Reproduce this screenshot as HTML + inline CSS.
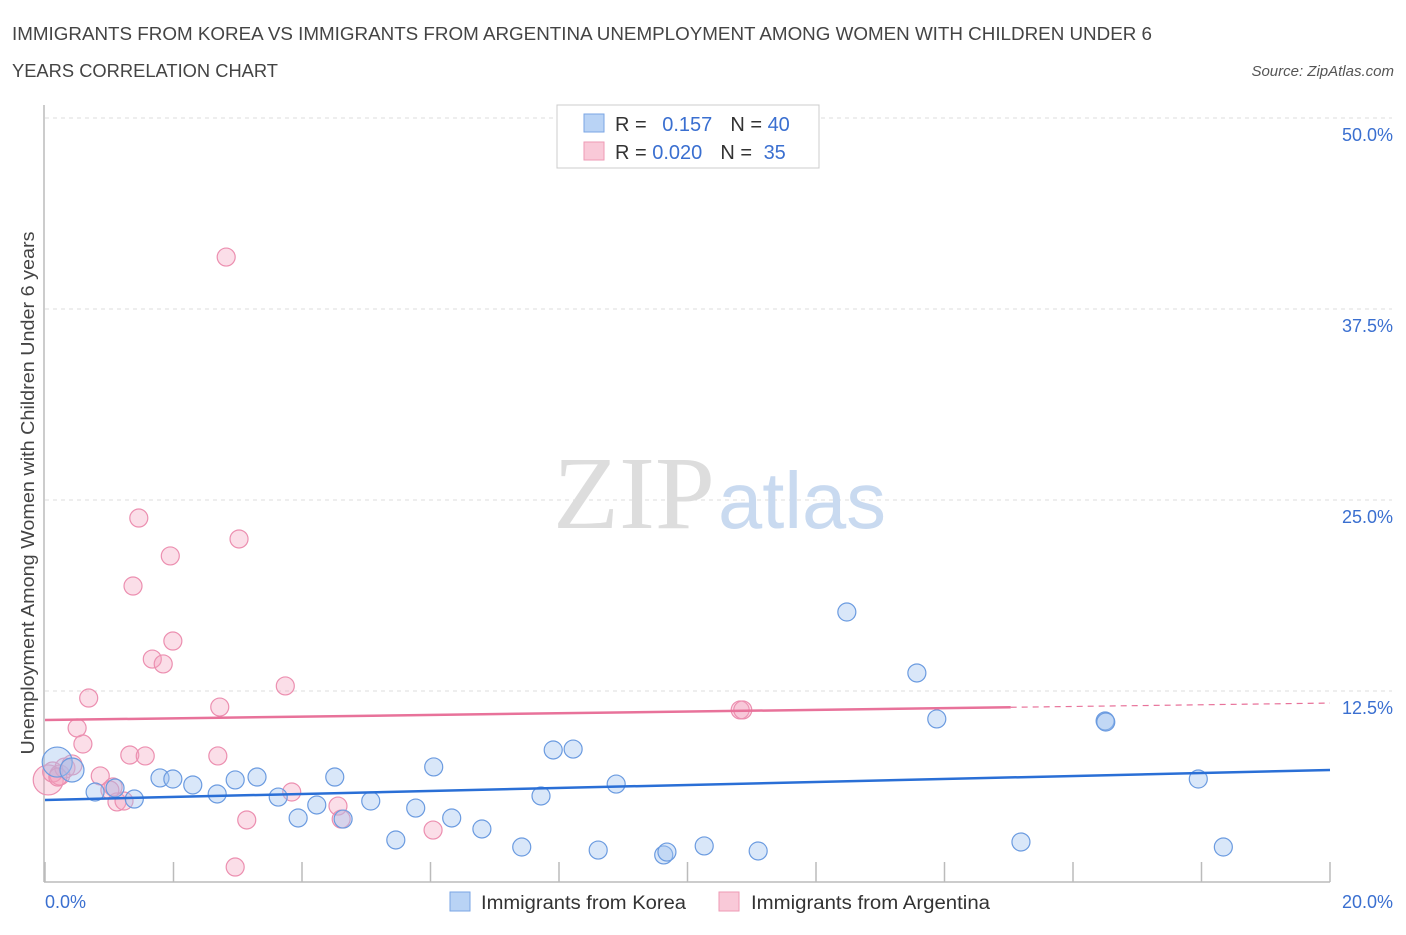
<!DOCTYPE html>
<html><head><meta charset="utf-8"><style>
body{margin:0;background:#fff;font-family:"Liberation Sans",sans-serif;}
</style></head><body>
<svg id="c" width="1406" height="930" xmlns="http://www.w3.org/2000/svg" style="font-family:'Liberation Sans',sans-serif">
<text x="12" y="40" font-size="18" fill="#444" textLength="1140" lengthAdjust="spacingAndGlyphs">IMMIGRANTS FROM KOREA VS IMMIGRANTS FROM ARGENTINA UNEMPLOYMENT AMONG WOMEN WITH CHILDREN UNDER 6</text>
<text x="12" y="77" font-size="18" fill="#444" textLength="266" lengthAdjust="spacingAndGlyphs">YEARS CORRELATION CHART</text>
<text x="1394" y="76" font-size="15" fill="#555" font-style="italic" text-anchor="end">Source: ZipAtlas.com</text>
<g id="grid"></g>
<text x="553" y="528" font-size="104" fill="#ddd" font-family="Liberation Serif,serif" textLength="162" lengthAdjust="spacingAndGlyphs">ZIP</text>
<text x="718" y="528" font-size="80" fill="#c9daf0" textLength="168" lengthAdjust="spacingAndGlyphs">atlas</text>
<line x1="44" y1="105" x2="44" y2="882" stroke="#bbb" stroke-width="1.5"/>
<line x1="44" y1="882" x2="1330" y2="882" stroke="#bbb" stroke-width="1.5"/>
<g id="ticks"></g>
<g id="pts"></g>
<g id="trend"></g>
<text x="34" y="493" font-size="18" fill="#444" text-anchor="middle" textLength="523" lengthAdjust="spacingAndGlyphs" transform="rotate(-90 34 493)">Unemployment Among Women with Children Under 6 years</text>
<text x="45" y="908" font-size="18" fill="#3a6fd0">0.0%</text>
<text x="1393" y="908" font-size="18" fill="#3a6fd0" text-anchor="end">20.0%</text>
<g>
<rect x="557" y="105" width="262" height="63" fill="#fff" stroke="#ccc"/>
<rect x="584" y="114" width="20" height="18" fill="#b9d3f5" stroke="#7aa6e4"/>
<rect x="584" y="142" width="20" height="18" fill="#f9c9d8" stroke="#ee9ab5"/>
<text x="615" y="131" font-size="20" fill="#333">R = <tspan fill="#3a6fd0" dx="10">0.157</tspan><tspan dx="18">N = </tspan><tspan fill="#3a6fd0">40</tspan></text>
<text x="615" y="159" font-size="20" fill="#333">R = <tspan fill="#3a6fd0">0.020</tspan><tspan dx="18">N = </tspan><tspan fill="#3a6fd0" dx="6">35</tspan></text>
</g>
<g>
<rect x="450" y="892" width="20" height="19" fill="#b9d3f5" stroke="#7aa6e4"/>
<text x="481" y="909" font-size="19" fill="#333" textLength="205" lengthAdjust="spacingAndGlyphs">Immigrants from Korea</text>
<rect x="719" y="892" width="20" height="19" fill="#f9c9d8" stroke="#ee9ab5"/>
<text x="751" y="909" font-size="19" fill="#333" textLength="239" lengthAdjust="spacingAndGlyphs">Immigrants from Argentina</text>
</g>
</svg>
<script>
const yTicks=[12.5,25,37.5,50];
const yTickLabels=["12.5%","25.0%","37.5%","50.0%"];
const xTicks=[0,2,4,6,8,10,12,14,16,18,20];
const koreaX=[0.19,0.42,0.78,1.09,1.39,1.79,1.99,2.30,2.68,2.96,3.30,3.63,3.94,4.23,4.51,4.64,5.07,5.46,5.77,6.05,6.33,6.80,7.42,7.72,7.91,8.22,8.61,8.89,9.63,9.68,10.26,11.10,12.48,13.57,13.88,15.19,16.50,16.51,17.95,18.34];
const koreaY=[7.85,7.33,5.89,6.15,5.43,6.81,6.74,6.35,5.76,6.68,6.87,5.56,4.19,5.04,6.87,4.12,5.30,2.75,4.84,7.53,4.19,3.47,2.29,5.63,8.64,8.70,2.09,6.41,1.77,1.96,2.36,2.03,17.67,13.68,10.67,2.62,10.54,10.47,6.74,2.29];
const argX=[0.05,0.12,0.23,0.31,0.42,0.68,0.50,0.59,0.86,1.06,1.12,1.23,1.37,1.46,1.67,1.84,1.95,1.99,1.32,1.56,2.72,2.69,2.82,2.96,3.02,3.14,3.74,3.84,4.56,4.61,6.04,10.82,10.86,0.20,1.01];
const argY=[6.68,7.20,7.00,7.46,7.66,12.04,10.08,9.03,6.94,6.22,5.24,5.30,19.37,23.82,14.59,14.27,21.34,15.77,8.31,8.25,11.45,8.25,40.90,0.98,22.45,4.06,12.83,5.89,4.97,4.12,3.40,11.26,11.26,6.87,6.02];
const koreaTrend=[5.37,7.33];
const argTrend=[10.60,11.71];
const argSolidEnd=15.03;
const X0=45,X1=1330,Y0=882,Y50=118;
const sx=v=>X0+(X1-X0)*v/20;
const sy=v=>Y0-(Y0-Y50)*v/50;
const NS="http://www.w3.org/2000/svg";
function mk(tag,attrs,parent){const e=document.createElementNS(NS,tag);for(const k in attrs)e.setAttribute(k,attrs[k]);parent.appendChild(e);return e;}
const grid=document.getElementById('grid');
yTicks.forEach((t,i)=>{
 const l=mk('line',{x1:45,x2:1392,y1:sy(t),y2:sy(t),stroke:'#ddd','stroke-dasharray':'4,4'},grid);
 
 
 const tx=mk('text',{x:1393,y:sy(t)+23,'font-size':18,fill:'#3a6fd0','text-anchor':'end'},grid);
 tx.textContent=yTickLabels[i];
 
 
});
const ticks=document.getElementById('ticks');
xTicks.forEach(t=>{
 const l=mk('line',{x1:sx(t),x2:sx(t),y1:862,y2:882,stroke:'#bbb','stroke-width':1.5},ticks);
 
 
});
const pts=document.getElementById('pts');
argX.forEach((x,i)=>{
 const r=i===0?15:(i<5?10:9);
 const c=mk('circle',{cx:sx(x),cy:sy(argY[i]),r:r,fill:'rgba(244,160,188,0.35)',stroke:'#ec8fb0','stroke-width':1.2},pts);
 
 
});
koreaX.forEach((x,i)=>{
 const r=i===0?15:(i===1?12:9);
 const c=mk('circle',{cx:sx(x),cy:sy(koreaY[i]),r:r,fill:'rgba(160,196,240,0.4)',stroke:'#6b9be0','stroke-width':1.2},pts);
 
 
});
const tr=document.getElementById('trend');
const kl=mk('line',{x1:sx(0),y1:sy(koreaTrend[0]),x2:sx(20),y2:sy(koreaTrend[1]),stroke:'#2a6fd6','stroke-width':2.5},tr);


const am=argTrend[0]+(argTrend[1]-argTrend[0])*argSolidEnd/20;
const al=mk('line',{x1:sx(0),y1:sy(argTrend[0]),x2:sx(argSolidEnd),y2:sy(am),stroke:'#e8729a','stroke-width':2.5},tr);


const ad=mk('line',{x1:sx(argSolidEnd),y1:sy(am),x2:sx(20),y2:sy(argTrend[1]),stroke:'#e8729a','stroke-width':1.2,'stroke-dasharray':'6,5'},tr);


</script>
</body></html>
